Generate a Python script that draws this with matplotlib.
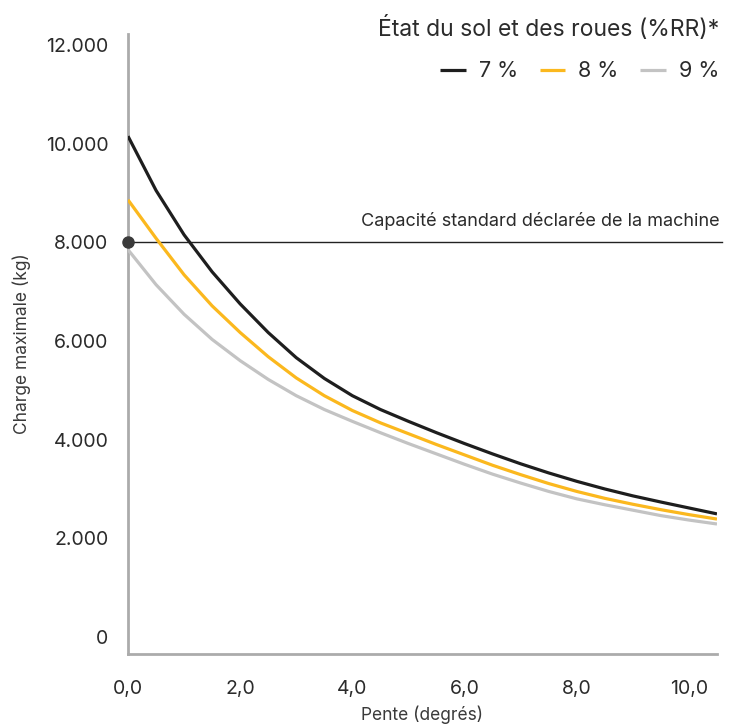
import matplotlib
matplotlib.use('Agg')
import matplotlib.pyplot as plt
from matplotlib.ticker import FuncFormatter

# pente (degrés) et charge maximale (kg)
pente = [0, 0.5, 1, 1.5, 2, 2.5, 3, 3.5, 4, 4.5, 5, 5.5, 6, 6.5, 7, 7.5, 8, 8.5, 9, 9.5, 10, 10.5]
charge_7 = [10150, 9050, 8150, 7400, 6750, 6170, 5660, 5240, 4890, 4610, 4370, 4140,
            3920, 3710, 3510, 3325, 3155, 3000, 2860, 2735, 2615, 2495]
charge_8 = [8860, 8080, 7340, 6710, 6170, 5680, 5250, 4890, 4590, 4340, 4120, 3900,
            3690, 3480, 3290, 3110, 2950, 2810, 2690, 2580, 2480, 2390]
charge_9 = [7850, 7140, 6540, 6030, 5600, 5220, 4890, 4610, 4370, 4140, 3920, 3710,
            3500, 3300, 3120, 2950, 2800, 2680, 2570, 2460, 2370, 2290]

series_labels = ['7 %', '8 %', '9 %']
series_colors = ['#1e1e1e', '#fbb81e', '#c3c3c3']
capacite = 8000
capacite_txt = 'Capacité standard déclarée de la machine'
legend_title = 'État du sol et des roues (%RR)*'
y_ticks = [0, 2000, 4000, 6000, 8000, 10000, 12000]
x_ticks = [0, 2, 4, 6, 8, 10]

plt.rcParams['font.family'] = ['Inter', 'DejaVu Sans']
txt_color = '#2b2b2b'

fig = plt.figure(figsize=(7.39, 7.25), dpi=100)
ax = fig.add_axes([0.1732, 0.0979, 0.797, 0.8552])

for _ys, _lb, _c in zip([charge_7, charge_8, charge_9], series_labels, series_colors):
    ax.plot(pente, _ys, color=_c, lw=2.3, label=_lb, solid_capstyle='butt', zorder=3)

ax.axhline(capacite, xmax=1.008, color='#222222', lw=1.0, zorder=2, clip_on=False)
ax.plot([0], [capacite], 'o', color='#3a3a3a', markersize=8, zorder=5, clip_on=False)
ax.text(1.005, capacite + 250, capacite_txt, transform=ax.get_yaxis_transform(),
        ha='right', va='bottom', fontsize=13, color=txt_color)

ax.set_xlim(0, 10.5)
ax.set_ylim(-345, 12220)
ax.set_xticks(x_ticks)
ax.set_yticks(y_ticks)
ax.xaxis.set_major_formatter(FuncFormatter(lambda v, p: ('%.1f' % v).replace('.', ',')))
ax.yaxis.set_major_formatter(FuncFormatter(lambda v, p: '{:,.0f}'.format(v).replace(',', '.')))
ax.tick_params(axis='both', length=0, labelsize=14, colors=txt_color)
ax.tick_params(axis='x', pad=19)
ax.tick_params(axis='y', pad=14)

for _s in ['top', 'right']:
    ax.spines[_s].set_visible(False)
for _s in ['left', 'bottom']:
    ax.spines[_s].set_color('#ababab')
    ax.spines[_s].set_linewidth(2.0)

ax.set_xlabel('Pente (degrés)', fontsize=12.5, color='#3a3a3a', labelpad=5)
ax.set_ylabel('Charge maximale (kg)', fontsize=12.5, color='#3a3a3a', labelpad=11)

leg = fig.legend(loc='upper right', bbox_to_anchor=(0.985, 0.99), ncol=3, frameon=False,
                 title=legend_title, title_fontsize=16.5, fontsize=15.5, handlelength=1.2,
                 handletextpad=0.6, columnspacing=1.0, labelspacing=0.95,
                 borderaxespad=0.0, alignment='right')
for _t in leg.get_texts():
    _t.set_color(txt_color)
leg.get_title().set_color(txt_color)

fig.savefig('out.png', dpi=100)
